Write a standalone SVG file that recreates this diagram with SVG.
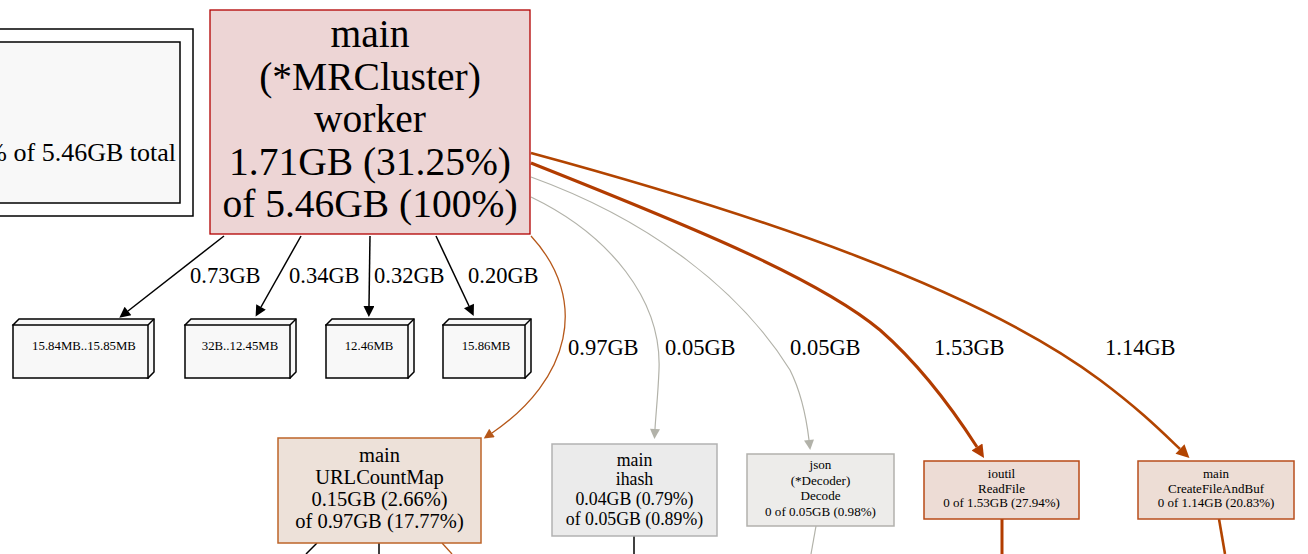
<svg xmlns="http://www.w3.org/2000/svg" width="1308" height="554" viewBox="0 0 1308 554">
<style>
text{font-family:"Liberation Serif","Times New Roman",serif;fill:#000;text-anchor:middle}
.lbl{font-size:22.5px;text-anchor:start}
.box3d{fill:#f8f8f8;stroke:#000;stroke-width:1.5}
.bt{font-size:12.8px}
.blk{fill:none;stroke:#000;stroke-width:1.5}
.gry{fill:none;stroke:#b2b2a9;stroke-width:1.2}
.org{fill:none;stroke:#b6581a;stroke-width:1.3}
.thk1{fill:none;stroke:#b23c00;stroke-width:3}
.thk2{fill:none;stroke:#b24400;stroke-width:2.6}
.mn{font-size:39.5px}
</style>
<defs>
<marker id="aBlk" markerUnits="userSpaceOnUse" viewBox="0 0 10 10" refX="0" refY="5" markerWidth="14" markerHeight="11" orient="auto"><path d="M0,0L10,5L0,10z" fill="#000"/></marker>
<marker id="aGry" markerUnits="userSpaceOnUse" viewBox="0 0 10 10" refX="0" refY="5" markerWidth="14" markerHeight="10" orient="auto"><path d="M0,0L10,5L0,10z" fill="#b2b2a9"/></marker>
<marker id="aOrg" markerUnits="userSpaceOnUse" viewBox="0 0 10 10" refX="0" refY="5" markerWidth="14" markerHeight="10" orient="auto"><path d="M0,0L10,5L0,10z" fill="#b6581a"/></marker>
<marker id="aThk1" markerUnits="userSpaceOnUse" viewBox="0 0 10 10" refX="0" refY="5" markerWidth="16" markerHeight="13" orient="auto"><path d="M0,0L10,5L0,10z" fill="#b23c00"/></marker>
<marker id="aThk2" markerUnits="userSpaceOnUse" viewBox="0 0 10 10" refX="0" refY="5" markerWidth="16" markerHeight="13" orient="auto"><path d="M0,0L10,5L0,10z" fill="#b24400"/></marker>
</defs>
<rect width="1308" height="554" fill="#fff"/>

<g id="legend">
<rect x="-10" y="29" width="203" height="187" fill="#fff" stroke="#000" stroke-width="1.5"/>
<rect x="-10" y="42" width="190" height="161" fill="#f8f8f8" stroke="#000" stroke-width="1.5"/>
<text x="176" y="161" style="font-size:26px;text-anchor:end">% of 5.46GB total</text>
</g>

<g id="connectors">
<path class="blk" d="M224,236 L128,311" marker-end="url(#aBlk)"/>
<path class="blk" d="M301,236 L261,307" marker-end="url(#aBlk)"/>
<path class="blk" d="M370,236 L369,306" marker-end="url(#aBlk)"/>
<path class="blk" d="M436,236 L469,306" marker-end="url(#aBlk)"/>
<path class="org" d="M531,236 C590,300 570,380 492,433" marker-end="url(#aOrg)"/>
<path class="gry" d="M531,197 C610,235 662,300 659,370 C658,395 656,412 655,429" marker-end="url(#aGry)"/>
<path class="gry" d="M531,177 C650,220 740,290 790,370 C800,390 806,415 809,440" marker-end="url(#aGry)"/>
<path class="thk1" d="M531,163 C700,230 820,280 880,330 C920,365 950,405 977,447" marker-end="url(#aThk1)"/>
<path class="thk2" d="M531,153 C760,215 980,290 1100,380 C1140,410 1160,430 1180,449" marker-end="url(#aThk2)"/>
<path class="blk" d="M317,543 L306,554"/>
<path class="blk" d="M379,543 L379,554"/>
<path class="org" d="M442,543 L452,554"/>
<path class="blk" d="M634,536 L634,554"/>
<path class="gry" d="M816,526 L811,554"/>
<path class="thk1" d="M1002,519 L1002,554"/>
<path class="thk2" d="M1219,519 L1225,554"/>
<text class="lbl" x="190" y="283">0.73GB</text>
<text class="lbl" x="289" y="283">0.34GB</text>
<text class="lbl" x="374" y="283">0.32GB</text>
<text class="lbl" x="468" y="283">0.20GB</text>
<text class="lbl" x="568" y="355">0.97GB</text>
<text class="lbl" x="665" y="355">0.05GB</text>
<text class="lbl" x="790" y="355">0.05GB</text>
<text class="lbl" x="934" y="355">1.53GB</text>
<text class="lbl" x="1105" y="355">1.14GB</text>
</g>

<g id="main_worker">
<rect x="210" y="10" width="320" height="224" fill="#edd5d5" stroke="#b20000" stroke-width="1.3"/>
<text class="mn" x="370" y="47">main</text>
<text class="mn" x="370" y="90">(*MRCluster)</text>
<text class="mn" x="370" y="132">worker</text>
<text class="mn" x="370" y="175">1.71GB (31.25%)</text>
<text class="mn" x="370" y="217">of 5.46GB (100%)</text>
</g>

<g id="box1">
<path class="box3d" d="M13,325 L19,319 L154,319 L154,372 L148,378 Z"/>
<rect x="13" y="325" width="135" height="53" fill="#f8f8f8" stroke="#000" stroke-width="1.5"/>
<path class="blk" d="M148,325 L154,319"/>
<text class="bt" x="84" y="350">15.84MB..15.85MB</text>
</g>
<g id="box2">
<path class="box3d" d="M185,325 L191,319 L296,319 L296,372 L290,378 Z"/>
<rect x="185" y="325" width="105" height="53" fill="#f8f8f8" stroke="#000" stroke-width="1.5"/>
<path class="blk" d="M290,325 L296,319"/>
<text class="bt" x="240" y="350">32B..12.45MB</text>
</g>
<g id="box3">
<path class="box3d" d="M326,325 L332,319 L414,319 L414,372 L408,378 Z"/>
<rect x="326" y="325" width="82" height="53" fill="#f8f8f8" stroke="#000" stroke-width="1.5"/>
<path class="blk" d="M408,325 L414,319"/>
<text class="bt" x="369" y="350">12.46MB</text>
</g>
<g id="box4">
<path class="box3d" d="M443,325 L449,319 L531,319 L531,372 L525,378 Z"/>
<rect x="443" y="325" width="82" height="53" fill="#f8f8f8" stroke="#000" stroke-width="1.5"/>
<path class="blk" d="M525,325 L531,319"/>
<text class="bt" x="486" y="350">15.86MB</text>
</g>

<g id="urlcountmap">
<rect x="278" y="438" width="203" height="105" fill="#ede1d9" stroke="#bd6428" stroke-width="1.5"/>
<g style="font-size:20.5px">
<text x="379.5" y="462">main</text>
<text x="379.5" y="484">URLCountMap</text>
<text x="379.5" y="506">0.15GB (2.66%)</text>
<text x="379.5" y="528">of 0.97GB (17.77%)</text>
</g>
</g>

<g id="ihash">
<rect x="552" y="444" width="165" height="92" fill="#ebebeb" stroke="#b2b2b2" stroke-width="1.5"/>
<g style="font-size:17.8px">
<text x="634.5" y="466">main</text>
<text x="634.5" y="485">ihash</text>
<text x="634.5" y="505">0.04GB (0.79%)</text>
<text x="634.5" y="525">of 0.05GB (0.89%)</text>
</g>
</g>

<g id="json_decode">
<rect x="747" y="454" width="147" height="72" fill="#edecea" stroke="#b2b1ad" stroke-width="1.5"/>
<g style="font-size:13.1px">
<text x="820.5" y="469">json</text>
<text x="820.5" y="485">(*Decoder)</text>
<text x="820.5" y="500">Decode</text>
<text x="820.5" y="516">0 of 0.05GB (0.98%)</text>
</g>
</g>

<g id="ioutil_readfile">
<rect x="924" y="461" width="155" height="58" fill="#eddcd5" stroke="#b84a16" stroke-width="1.5"/>
<g style="font-size:13px">
<text x="1001.5" y="478">ioutil</text>
<text x="1001.5" y="493">ReadFile</text>
<text x="1001.5" y="507">0 of 1.53GB (27.94%)</text>
</g>
</g>

<g id="createfileandbuf">
<rect x="1138" y="461" width="156" height="58" fill="#edddd5" stroke="#b84e1c" stroke-width="1.5"/>
<g style="font-size:13px">
<text x="1216" y="478">main</text>
<text x="1216" y="493">CreateFileAndBuf</text>
<text x="1216" y="507">0 of 1.14GB (20.83%)</text>
</g>
</g>
</svg>
